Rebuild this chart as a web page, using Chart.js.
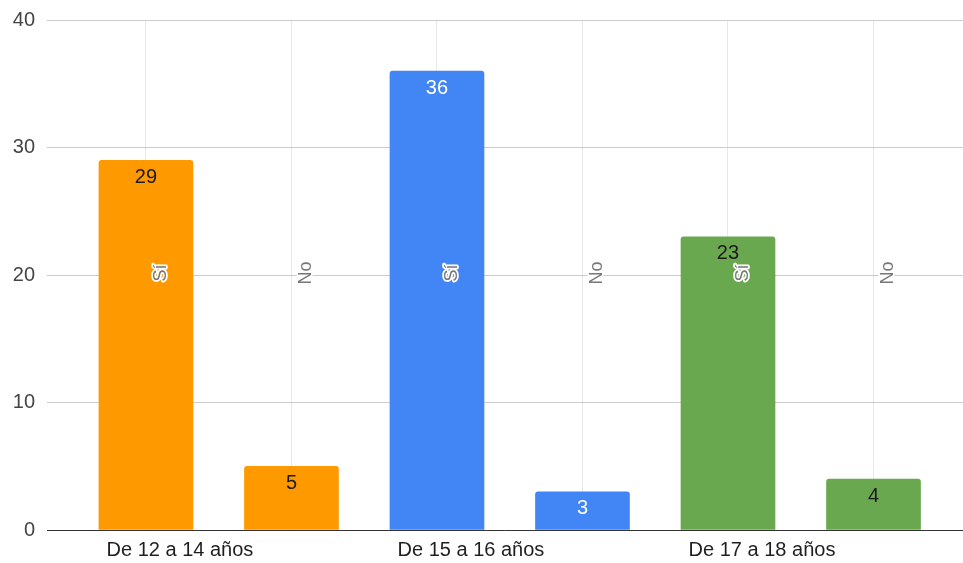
<!DOCTYPE html>
<html>
<head>
<meta charset="utf-8">
<script src="https://cdn.jsdelivr.net/npm/chart.js@4/dist/chart.umd.min.js"></script>
<style>
  html, body { margin: 0; padding: 0; background: #ffffff; }
  #wrap { width: 963px; height: 563px; }
</style>
</head>
<body>
<div id="wrap"><canvas id="chart" width="963" height="563"></canvas></div>
<script>
// Age groups and answers per group
const groups = ['De 12 a 14 años', 'De 15 a 16 años', 'De 17 a 18 años'];
const seriesNames = ['Sí', 'No'];
const siValues = [29, 36, 23];
const noValues = [5, 3, 4];
const groupColors = ['#ff9900', '#4285f4', '#6aa84f'];
const valueTextColors = ['#1a1a1a', '#ffffff', '#1a1a1a'];
const yTicks = [0, 10, 20, 30, 40];

// One bar per slot: slot = group * 2 + series (0 = Sí, 1 = No)
const points = [];
const barColors = [];
const labelColors = [];
const barSeries = [];
groups.forEach((g, gi) => {
  [siValues, noValues].forEach((vals, si) => {
    points.push({ x: gi * 2 + si, y: vals[gi] });
    barColors.push(groupColors[gi]);
    labelColors.push(valueTextColors[gi]);
    barSeries.push(seriesNames[si]);
  });
});

const FONT = '"Liberation Sans", Arial, sans-serif';

// Value labels at the top of each bar, series names written vertically
const barLabels = {
  id: 'barLabels',
  afterDatasetsDraw(chart) {
    const ctx = chart.ctx;
    const meta = chart.getDatasetMeta(0);
    const yScale = chart.scales.y;
    ctx.save();
    meta.data.forEach((bar, i) => {
      const p = points[i];
      // value
      ctx.font = '20px ' + FONT;
      ctx.textAlign = 'center';
      ctx.textBaseline = 'middle';
      ctx.fillStyle = labelColors[i];
      ctx.fillText(String(p.y), bar.x, bar.y + 17);
      // series name, rotated
      const ny = yScale.getPixelForValue(20) - 2;
      ctx.save();
      ctx.translate(bar.x + 15, ny);
      ctx.rotate(-Math.PI / 2);
      ctx.font = '18px ' + FONT;
      ctx.lineJoin = 'round';
      ctx.lineWidth = 3.5;
      ctx.strokeStyle = '#ffffff';
      ctx.strokeText(barSeries[i], 0, 0);
      ctx.fillStyle = '#777777';
      ctx.fillText(barSeries[i], 0, 0);
      ctx.restore();
    });
    ctx.restore();
  }
};

new Chart(document.getElementById('chart'), {
  type: 'bar',
  data: {
    datasets: [{
      data: points,
      backgroundColor: barColors,
      borderWidth: 0,
      borderRadius: { topLeft: 3, topRight: 3, bottomLeft: 0, bottomRight: 0 },
      borderSkipped: 'bottom',
      barThickness: 94
    }]
  },
  options: {
    responsive: false,
    animation: false,
    devicePixelRatio: 1,
    layout: { padding: { top: 20, left: 0, right: 0, bottom: 0 } },
    plugins: {
      legend: { display: false },
      tooltip: { enabled: false }
    },
    scales: {
      x: {
        type: 'linear',
        offset: false,
        min: -0.68,
        max: 5.615,
        grid: { color: '#e8e8e8', lineWidth: 1, drawTicks: false, offset: false },
        border: { display: true, color: '#333333', width: 1 },
        ticks: {
          stepSize: 1,
          includeBounds: false,
          autoSkip: false,
          maxRotation: 0,
          labelOffset: 34,
          padding: 8,
          color: '#1f1f1f',
          font: { family: FONT, size: 20 },
          callback: (v) => (Number.isInteger(v) && v % 2 === 0 ? groups[v / 2] : '')
        },
        afterFit(s) { s.height = 33; s.paddingLeft = 0; s.paddingRight = 0; }
      },
      y: {
        min: 0,
        max: 40,
        afterBuildTicks(s) { s.ticks = yTicks.map(v => ({ value: v })); },
        grid: { color: '#cccccc', lineWidth: 1, drawTicks: false },
        border: { display: false },
        ticks: {
          padding: 12,
          color: '#444444',
          font: { family: FONT, size: 20 }
        },
        afterFit(s) { s.width = 47; s.paddingTop = 0; s.paddingBottom = 0; }
      }
    }
  },
  plugins: [barLabels]
});
</script>
</body>
</html>
